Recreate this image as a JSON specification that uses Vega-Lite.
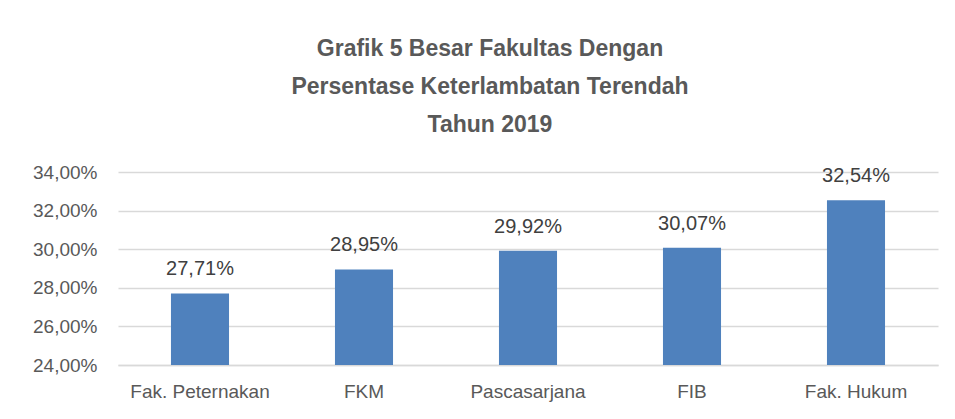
{
  "$schema": "https://vega.github.io/schema/vega-lite/v6.json",
  "width": 820,
  "height": 193,
  "autosize": {"type": "none"},
  "padding": {"left": 118, "top": 172, "right": 17, "bottom": 54},
  "background": "white",
  "title": {
    "text": ["Grafik 5 Besar Fakultas Dengan", "Persentase Keterlambatan Terendah", "Tahun 2019"],
    "font": "Liberation Sans",
    "fontSize": 23,
    "fontWeight": "bold",
    "color": "#595959",
    "lineHeight": 38,
    "anchor": "middle",
    "dx": -38,
    "offset": 26
  },
  "data": {
    "values": [
      {"fakultas": "Fak. Peternakan", "persen": 0.2771},
      {"fakultas": "FKM", "persen": 0.2895},
      {"fakultas": "Pascasarjana", "persen": 0.2992},
      {"fakultas": "FIB", "persen": 0.3007},
      {"fakultas": "Fak. Hukum", "persen": 0.3254}
    ]
  },
  "encoding": {
    "x": {
      "field": "fakultas",
      "type": "nominal",
      "sort": null,
      "title": null,
      "scale": {"paddingInner": 0.646, "paddingOuter": 0.323},
      "axis": {
        "labelAngle": 0,
        "labelFont": "Liberation Sans",
        "labelFontSize": 19,
        "labelColor": "#595959",
        "labelPadding": 17,
        "ticks": false,
        "domainColor": "#d9d9d9",
        "domainWidth": 1.5
      }
    },
    "y": {
      "field": "persen",
      "type": "quantitative",
      "title": null,
      "scale": {"domain": [0.24, 0.34], "zero": false, "nice": false},
      "axis": {
        "values": [0.24, 0.26, 0.28, 0.30, 0.32, 0.34],
        "format": ".2%",
        "labelFont": "Liberation Sans",
        "labelFontSize": 19,
        "labelColor": "#595959",
        "labelPadding": 21,
        "ticks": false,
        "domain": false,
        "gridColor": "#d9d9d9",
        "gridWidth": 1.5
      }
    }
  },
  "layer": [
    {"mark": {"type": "bar", "color": "#4F81BD", "clip": true}},
    {
      "mark": {
        "type": "text",
        "dy": -24,
        "font": "Liberation Sans",
        "fontSize": 20,
        "color": "#404040"
      },
      "encoding": {"text": {"field": "persen", "type": "quantitative", "format": ".2%"}}
    }
  ],
  "config": {
    "view": {"stroke": null},
    "locale": {
      "number": {"decimal": ",", "thousands": ".", "grouping": [3], "currency": ["Rp", ""]}
    }
  }
}
